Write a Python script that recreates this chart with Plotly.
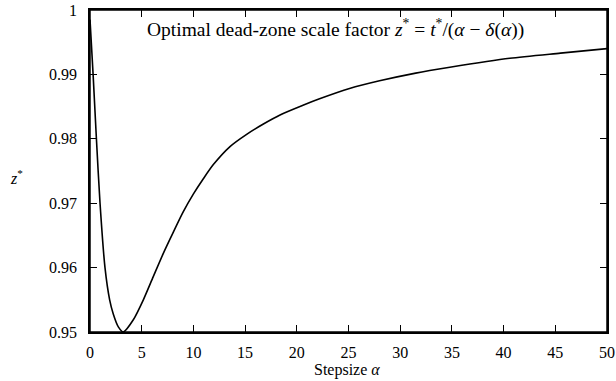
import plotly.graph_objects as go

alpha = [0, 0.3, 0.62, 0.97, 1.45, 1.9, 2.25, 2.74, 3.22, 4.19, 5.16, 6.12, 7.09, 8.06, 9.0, 9.99,
         10.96, 11.93, 13.54, 15.15, 16.77, 18.38, 20.6, 22.2, 25.1, 28, 31.5, 34.8, 40.6, 45.5, 50]
zstar = [0.9985, 0.990, 0.980, 0.970, 0.960, 0.9550, 0.9528, 0.9508, 0.9500, 0.9519, 0.9550, 0.9586,
         0.9622, 0.9655, 0.9686, 0.9714, 0.9738, 0.9760, 0.9788, 0.9807, 0.9823, 0.9837, 0.9852,
         0.9862, 0.9878, 0.9890, 0.9902, 0.9911, 0.9925, 0.9933, 0.9940]

xticks = [0, 5, 10, 15, 20, 25, 30, 35, 40, 45, 50]
yticks = [0.95, 0.96, 0.97, 0.98, 0.99, 1.0]
yticklabels = ["0.95", "0.96", "0.97", "0.98", "0.99", "1"]

FONT = "Liberation Serif"

fig = go.Figure()
fig.add_trace(go.Scatter(x=alpha, y=zstar, mode="lines",
                         line=dict(color="black", width=1.6, shape="spline", smoothing=0.7),
                         showlegend=False, hoverinfo="skip"))

axis_common = dict(showgrid=False, zeroline=False, showline=True, linecolor="black", linewidth=1.5,
                   mirror="ticks", ticks="inside", ticklen=7, tickwidth=1.3, tickcolor="black",
                   automargin=False,
                   tickfont=dict(family=FONT, size=16, color="black"))

fig.update_xaxes(range=[0, 50], tickvals=xticks, ticklabelstandoff=5, **axis_common)
fig.update_yaxes(range=[0.95, 1.0], tickvals=yticks, ticktext=yticklabels, ticklabelstandoff=8,
                 **axis_common)

# plot frame
fig.add_shape(type="rect", xref="paper", yref="paper", x0=0, y0=0, x1=1, y1=1,
              line=dict(color="black", width=1.5), fillcolor="rgba(0,0,0,0)", layer="above")

fig.add_annotation(xref="paper", yref="paper", x=0.498, y=-0.118, xanchor="center", yanchor="middle",
                   showarrow=False, text="Stepsize <i>α</i>",
                   font=dict(family=FONT, size=16, color="black"))
fig.add_annotation(xref="paper", yref="paper", x=-0.143, y=0.481, xanchor="center", yanchor="middle",
                   showarrow=False, text="<i>z</i><sup>*</sup>",
                   font=dict(family=FONT, size=16, color="black"))
fig.add_annotation(xref="paper", yref="paper", x=0.475, y=0.944, xanchor="center", yanchor="middle",
                   showarrow=False,
                   text="Optimal dead-zone scale factor <i>z</i><sup>*</sup> = <i>t</i><sup>*</sup>/(<i>α</i> − <i>δ</i>(<i>α</i>))",
                   font=dict(family=FONT, size=19.5, color="black"))

fig.update_layout(width=616, height=381, margin=dict(l=90, r=9, t=10, b=49),
                  plot_bgcolor="white", paper_bgcolor="white", hovermode=False)

fig.write_html("out.html", config={"displayModeBar": False},
               post_script="document.body.style.margin='0';document.body.style.overflow='hidden';")
